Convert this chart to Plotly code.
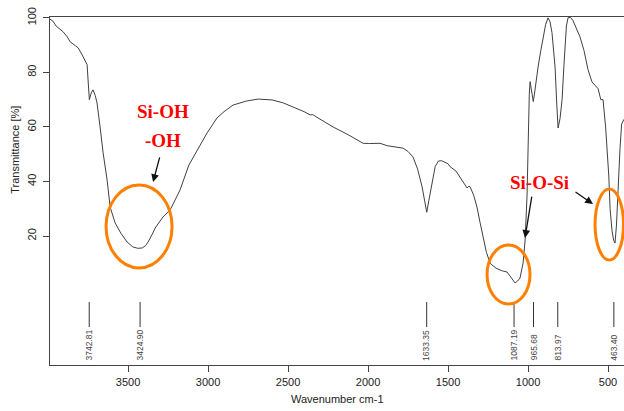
import plotly.graph_objects as go

# Spectrum values (wavenumber cm-1, transmittance %)
wavenumber = [3988, 3970, 3950, 3937, 3906, 3880, 3862, 3830, 3812, 3787, 3770, 3756, 3750, 3742,
              3730, 3719, 3705, 3694, 3675, 3656, 3631, 3612, 3581, 3545, 3506, 3470, 3440, 3412,
              3390, 3375, 3350, 3331, 3300, 3281, 3237, 3210, 3175, 3120, 3050, 3006, 2944, 2900,
              2844, 2760, 2687, 2600, 2530, 2469, 2400, 2362, 2345, 2330, 2300, 2219, 2120, 2031,
              1990, 1960, 1925, 1880, 1844, 1810, 1781, 1750, 1719, 1690, 1662, 1645, 1633, 1620,
              1600, 1580, 1560, 1540, 1500, 1487, 1450, 1425, 1400, 1381, 1370, 1362, 1340, 1319,
              1300, 1281, 1260, 1250, 1237, 1200, 1160, 1131, 1110, 1095, 1081, 1065, 1050, 1031,
              1018, 1006, 1000, 992, 987, 980, 972, 967, 960, 950, 937, 920, 906, 890, 875, 862,
              850, 840, 831, 820, 812, 800, 787, 775, 769, 760, 750, 735, 719, 700, 675, 650, 625,
              600, 580, 562, 545, 531, 515, 506, 495, 487, 475, 465, 456, 447, 437, 425, 415, 400]
transmittance = [99.5, 98.8, 97.0, 96.3, 94.9, 93.0, 91.2, 89.8, 89.0, 86.4, 84.5, 82.8, 77.2, 70.0,
                 72.5, 73.6, 71.5, 68.8, 60.0, 50.5, 40.5, 30.6, 24.8, 21.0, 17.8, 16.0, 15.5, 15.6,
                 16.5, 17.8, 20.5, 22.9, 25.5, 27.0, 29.5, 32.5, 36.9, 46.0, 53.0, 57.8, 63.3, 65.6,
                 68.0, 69.5, 70.2, 69.9, 68.8, 67.4, 65.6, 64.4, 64.5, 63.9, 62.8, 60.0, 57.0, 54.0,
                 53.9, 54.0, 54.0, 53.1, 52.7, 52.6, 52.2, 51.0, 49.0, 44.5, 38.0, 32.5, 28.7, 33.0,
                 40.0, 45.5, 47.5, 47.6, 46.5, 45.4, 43.8, 41.7, 39.5, 37.6, 38.3, 38.0, 35.0, 30.6,
                 25.0, 19.6, 14.0, 12.3, 10.0, 8.2, 7.2, 6.8, 5.3, 3.8, 2.8, 3.5, 4.6, 10.0,
                 18.5, 35.0, 55.0, 72.0, 76.6, 74.0, 70.5, 69.3, 72.0, 77.0, 82.0, 88.0, 93.0, 97.5, 100.0, 98.5,
                 94.5, 89.0, 82.0, 68.0, 59.6, 63.0, 70.0, 83.0, 90.8, 97.0, 100.0, 100.2, 99.0, 96.5, 93.0, 88.0, 81.0,
                 76.5, 75.0, 74.0, 70.0, 70.0, 60.0, 52.0, 42.0, 30.0, 22.0, 18.5, 17.4, 24.0, 38.0, 52.0, 61.0, 62.8]

peak_positions = [3742.81, 3424.90, 1633.35, 1087.19, 965.68, 813.97, 463.40]
peak_labels = ["3742.81", "3424.90", "1633.35", "1087.19", "965.68", "813.97", "463.40"]

x_ticks = [3500, 3000, 2500, 2000, 1500, 1000, 500]
y_ticks = [20, 40, 60, 80, 100]

x_range = [3988, 400]
y_range = [-27.3, 100.3]

fig = go.Figure()

fig.add_trace(go.Scatter(x=wavenumber, y=transmittance, mode="lines",
                         line=dict(color="#404040", width=1), hoverinfo="skip", showlegend=False))

# peak marker lines
px_, py_ = [], []
for p in peak_positions:
    px_ += [p, p, None]
    py_ += [-4.2, -13.4, None]
fig.add_trace(go.Scatter(x=px_, y=py_, mode="lines", line=dict(color="#333333", width=1),
                         hoverinfo="skip", showlegend=False))

annotations = []
for p, lab in zip(peak_positions, peak_labels):
    annotations.append(dict(x=p, y=-26.5, xref="x", yref="y", text=lab, showarrow=False,
                            textangle=-90, xanchor="center", yanchor="bottom",
                            font=dict(family="Liberation Sans", size=8.5, color="#444444")))

red_font = dict(family="Liberation Serif", size=19, color="#ff0000")
annotations += [
    dict(x=3281, y=65.5, xref="x", yref="y", text="<b>Si-OH</b>", showarrow=False, font=red_font),
    dict(x=3281, y=55.2, xref="x", yref="y", text="<b>-OH</b>", showarrow=False, font=red_font),
    dict(x=931, y=39.8, xref="x", yref="y", text="<b>Si-O-Si</b>", showarrow=False, font=red_font),
]
for (hx, hy, tx, ty) in [(3343.75, 39.8, 3300, 49.4), (1018.75, 19.3, 975, 35.0), (593.75, 31.7, 712.5, 36.5)]:
    annotations.append(dict(x=hx, y=hy, ax=tx, ay=ty, xref="x", yref="y", axref="x", ayref="y",
                            text="", showarrow=True, arrowhead=2, arrowsize=1.2, arrowwidth=1.3,
                            arrowcolor="#111111"))

annotations.append(dict(x=-0.061, y=51.6, xref="paper", yref="y", text="Transmittance [%]",
                        showarrow=False, textangle=-90, xanchor="center", yanchor="middle",
                        font=dict(family="Liberation Sans", size=11, color="#222222")))
annotations.append(dict(x=1000 + 6.25 * (528 - 337), y=-(399 - 365) / 348, xref="x", yref="paper",
                        text="Wavenumber cm-1", showarrow=False, xanchor="center", yanchor="middle",
                        font=dict(family="Liberation Sans", size=11, color="#222222")))

orange = "#ff8000"
shapes = [
    dict(type="circle", xref="x", yref="y", x0=3637.5, x1=3225, y0=8.3, y1=38.7,
         line=dict(color=orange, width=3)),
    dict(type="circle", xref="x", yref="y", x0=1256, x1=987.5, y0=-4.95, y1=16.7,
         line=dict(color=orange, width=3)),
    dict(type="circle", xref="x", yref="y", x0=581, x1=403, y0=11.2, y1=37.2,
         line=dict(color=orange, width=3)),
]

axis_font = dict(family="Liberation Sans", size=11, color="#222222")
fig.update_layout(
    width=624, height=411,
    margin=dict(l=50, r=0, t=17, b=46),
    paper_bgcolor="white", plot_bgcolor="white",
    annotations=annotations, shapes=shapes,
    xaxis=dict(range=x_range, tickvals=x_ticks, ticktext=[str(v) for v in x_ticks],
               ticks="outside", ticklen=6, tickcolor="#444444", showline=True,
               linecolor="#444444", linewidth=1, mirror=True, showgrid=False, zeroline=False,
               tickfont=axis_font, ticklabelstandoff=1),
    yaxis=dict(range=y_range, tickvals=y_ticks, ticktext=[str(v) for v in y_ticks],
               ticks="outside", ticklen=6, tickcolor="#444444", showline=True,
               linecolor="#444444", linewidth=1, showgrid=False, zeroline=False,
               tickangle=-90, tickfont=axis_font, ticklabelstandoff=3),
)

fig.write_html("out.html")
